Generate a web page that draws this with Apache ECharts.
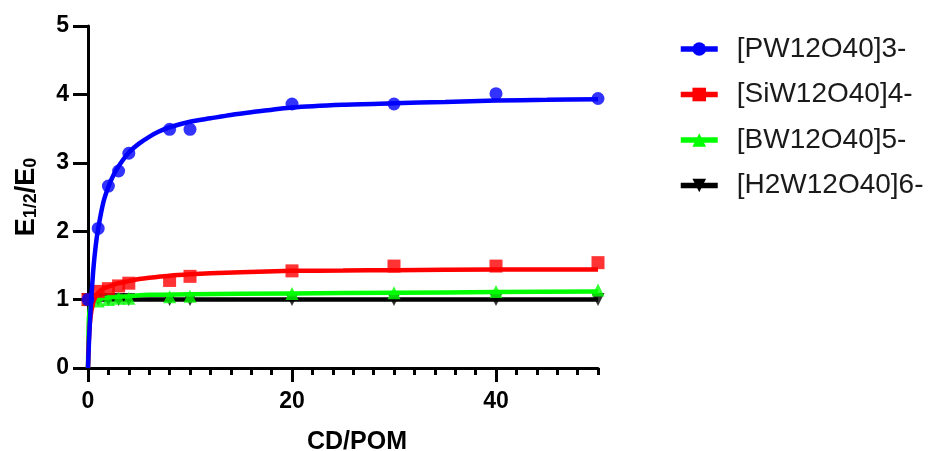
<!DOCTYPE html>
<html>
<head>
<meta charset="utf-8">
<script src="https://cdn.jsdelivr.net/npm/echarts@6/dist/echarts.min.js"></script>
<style>html,body{margin:0;padding:0;background:#fff}#c{width:929px;height:451px}</style>
</head>
<body>
<div id="c"></div>
<script>
// ---- data ----
const seriesNames = ['[PW12O40]3-', '[SiW12O40]4-', '[BW12O40]5-', '[H2W12O40]6-'];
const xPoints = [0, 1, 2, 3, 4, 8, 10, 20, 30, 40, 50];
const pwPoints  = [1.00, 2.04, 2.66, 2.88, 3.14, 3.49, 3.49, 3.86, 3.86, 4.01, 3.94];
const siwPoints = [1.00, 1.12, 1.16, 1.20, 1.24, 1.28, 1.34, 1.42, 1.49, 1.49, 1.54];
const bwPoints  = [1.00, 0.98, 1.00, 1.02, 1.02, 1.04, 1.05, 1.09, 1.10, 1.12, 1.14];
const h2wPoints = [1.00, 1.00, 1.00, 1.00, 1.00, 1.00, 1.00, 1.00, 1.00, 1.00, 1.00];

const pwFitX  = [0, 0.1, 0.25, 0.5, 0.75, 1, 1.5, 2, 2.5, 3, 4, 5, 6, 7, 8, 10, 12, 14, 16, 20, 25, 30, 35, 40, 45, 50];
const pwFitY  = [0, 0.40, 0.85, 1.40, 1.78, 2.04, 2.42, 2.65, 2.82, 2.95, 3.15, 3.28, 3.38, 3.46, 3.52, 3.60, 3.65, 3.70, 3.74, 3.81, 3.85, 3.87, 3.89, 3.91, 3.92, 3.93];
const siwFitX = [0, 0.1, 0.25, 0.5, 0.75, 1, 1.5, 2, 3, 4, 5, 6, 8, 10, 12, 15, 20, 25, 30, 40, 50];
const siwFitY = [0, 0.45, 0.75, 0.95, 1.04, 1.10, 1.16, 1.19, 1.24, 1.27, 1.30, 1.32, 1.35, 1.37, 1.385, 1.40, 1.42, 1.425, 1.43, 1.44, 1.44];
const bwFitX  = [0, 0.05, 0.1, 0.25, 0.5, 1, 2, 4, 6, 10, 20, 30, 40, 50];
const bwFitY  = [0, 0.50, 0.75, 0.92, 0.98, 1.00, 1.03, 1.05, 1.07, 1.08, 1.09, 1.10, 1.11, 1.12];
const h2wFitX = [0, 50];
const h2wFitY = [1.00, 1.00];

const xMajorTicks = [0, 20, 40];

const colors = ['#0000ff', '#ff0000', '#00ff00', '#000000'];
const symbols = ['circle', 'rect', 'triangle', 'triangle'];
const rotates = [0, 0, 0, 180];
const pointSets = [pwPoints, siwPoints, bwPoints, h2wPoints];
const fitX = [pwFitX, siwFitX, bwFitX, h2wFitX];
const fitY = [pwFitY, siwFitY, bwFitY, h2wFitY];

const zip = (a, b) => a.map((v, i) => [v, b[i]]);
const FONT = '"Liberation Sans", Arial, sans-serif';

const series = [];
// draw order: black, green, red, blue
[3, 2, 1, 0].forEach((k, order) => {
  series.push({
    name: seriesNames[k], type: 'line', data: zip(fitX[k], fitY[k]),
    smooth: 0.25, showSymbol: false,
    symbol: symbols[k], symbolSize: 13, symbolRotate: rotates[k],
    lineStyle: { color: colors[k], width: 4.5 }, itemStyle: { color: colors[k] },
    z: 2 + order * 2, silent: true, animation: false
  });
  series.push({
    name: 'pts' + k, type: 'scatter', data: zip(xPoints, pointSets[k]),
    symbol: symbols[k], symbolSize: 13, symbolRotate: rotates[k],
    itemStyle: { color: colors[k] }, z: 3 + order * 2, silent: true, animation: false
  });
});

const chart = echarts.init(document.getElementById('c'));
chart.setOption({
  animation: false,
  grid: { left: 88, right: 331, top: 26, bottom: 83, containLabel: false, outerBoundsMode: 'none' },
  legend: {
    data: seriesNames, orient: 'vertical', left: 678, top: 34, padding: 0,
    itemWidth: 37, itemHeight: 17, itemGap: 15.5,
    lineStyle: { width: 5.5 },
    textStyle: { fontFamily: FONT, fontSize: 28, color: '#1a1a1a', lineHeight: 30, padding: [0, 0, 0, 14] }
  },
  xAxis: [{
    type: 'value', min: 0, max: 50, interval: 2,
    name: 'CD/POM', nameLocation: 'middle', nameGap: 62,
    nameTextStyle: { fontFamily: FONT, fontWeight: 'bold', fontSize: 25, color: '#000', padding: [0, 0, 0, 28] },
    axisLine: { onZero: false, lineStyle: { color: '#000', width: 3 } },
    axisTick: { show: true, length: 7, lineStyle: { color: '#000', width: 3 } },
    axisLabel: { show: false },
    splitLine: { show: false }
  }, {
    type: 'value', min: 0, max: 50, position: 'bottom',
    axisLine: { show: false },
    axisTick: { show: true, length: 14, customValues: xMajorTicks, lineStyle: { color: '#000', width: 3 } },
    axisLabel: { customValues: xMajorTicks, margin: 22, fontFamily: FONT, fontWeight: 'bold', fontSize: 23, color: '#000' },
    splitLine: { show: false }
  }],
  yAxis: {
    type: 'value', min: 0, max: 5, interval: 1,
    name: '{a|E}{b|1/2}{a|/E}{b|0}', nameLocation: 'middle', nameGap: 48,
    nameTextStyle: { rich: {
      a: { fontFamily: FONT, fontWeight: 'bold', fontSize: 27, color: '#000', verticalAlign: 'bottom', lineHeight: 30 },
      b: { fontFamily: FONT, fontWeight: 'bold', fontSize: 18, color: '#000', verticalAlign: 'bottom', lineHeight: 24 }
    } },
    axisLine: { show: true, onZero: false, lineStyle: { color: '#000', width: 3 } },
    axisTick: { show: true, length: 15, lineStyle: { color: '#000', width: 3 } },
    axisLabel: { margin: 19, fontFamily: FONT, fontWeight: 'bold', fontSize: 23, color: '#000' },
    splitLine: { show: false }
  },
  series: series.map(s => Object.assign(s, { xAxisIndex: 0 }))
});
</script>
</body>
</html>
